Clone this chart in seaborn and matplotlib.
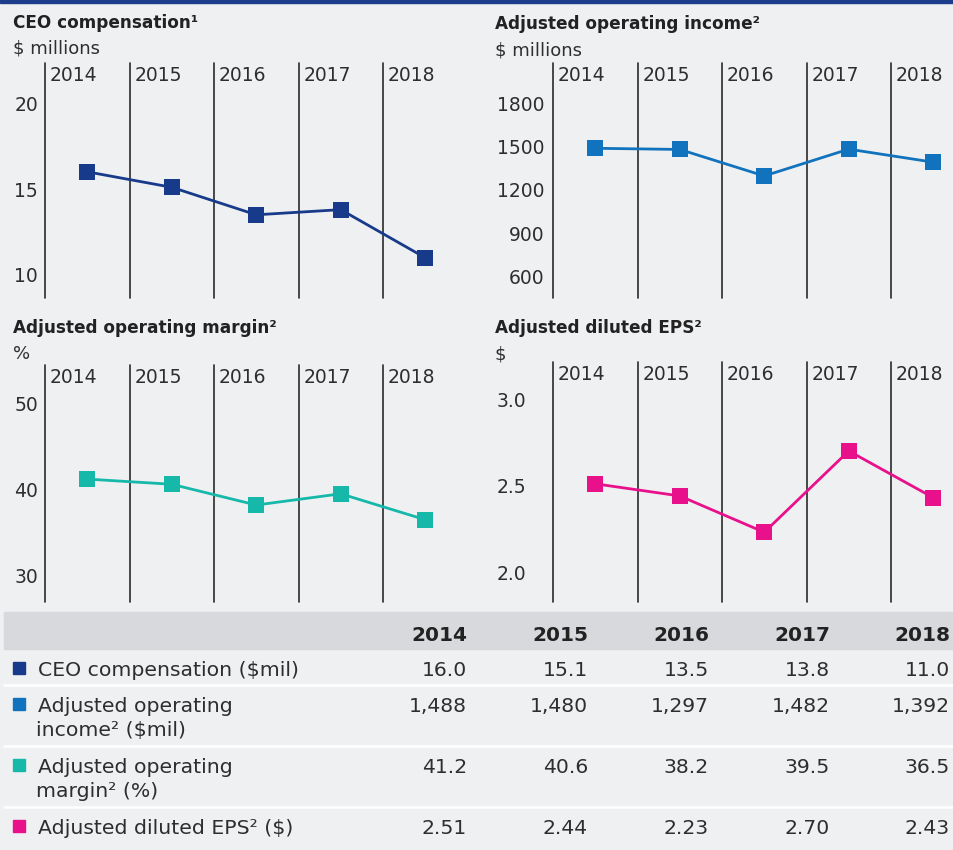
import numpy as np
import pandas as pd
import matplotlib.pyplot as plt
from matplotlib.patches import Rectangle
import seaborn as sns

years = [2014, 2015, 2016, 2017, 2018]
ceo_comp = [16.0, 15.1, 13.5, 13.8, 11.0]
op_income = [1488, 1480, 1297, 1482, 1392]
op_margin = [41.2, 40.6, 38.2, 39.5, 36.5]
adj_eps = [2.51, 2.44, 2.23, 2.70, 2.43]

ceo_ticks = [10, 15, 20]
income_ticks = [600, 900, 1200, 1500, 1800]
margin_ticks = [30, 40, 50]
eps_ticks = [2.0, 2.5, 3.0]

row_labels = ['CEO compensation ($mil)',
              'Adjusted operating\nincome\u00b2 ($mil)',
              'Adjusted operating\nmargin\u00b2 (%)',
              'Adjusted diluted EPS\u00b2 ($)']
row_values = [[f'{v:.1f}' for v in ceo_comp],
              [f'{v:,}' for v in op_income],
              [f'{v:.1f}' for v in op_margin],
              [f'{v:.2f}' for v in adj_eps]]

navy = '#173a8a'
blue = '#1172bd'
teal = '#16b8aa'
pink = '#e8108b'
bg = '#eff0f2'
txt = '#2e2e2e'

sns.set_style('white')
plt.rcParams['font.family'] = ['DejaVu Sans']

W, H = 954, 850
fig = plt.figure(figsize=(W / 100, H / 100), dpi=100, facecolor=bg)


def fx(x):
    return x / W


def fy(y):
    return 1 - y / H


# dark band along the top
fig.patches.append(Rectangle((0, fy(3)), 1, 3 / H, transform=fig.transFigure,
                             color='#1d3c8c', zorder=0))


def panel(left, right, top, bottom, vals, color, ylim, ticks, fmt, pad,
          title, unit, title_x, title_base):
    ax = fig.add_axes([fx(left), fy(bottom), fx(right - left), (bottom - top) / H])
    ax.set_facecolor('none')
    df = pd.DataFrame({'year': years, 'value': vals})
    sns.lineplot(data=df, x='year', y='value', color=color, marker='s',
                 markersize=11.8, markeredgewidth=0, linewidth=2.0, ax=ax)
    step = 84.5
    ax.set_xlim(years[0] - 0.5, years[0] - 0.5 + (right - left) / step)
    ax.set_ylim(*ylim)
    for yr in years:
        ax.axvline(yr - 0.5, color='#2b2b2b', lw=1.2, zorder=0, clip_on=False)
        ax.annotate(str(yr), xy=(yr - 0.5, 1), xycoords=('data', 'axes fraction'),
                    xytext=(5, -18), textcoords='offset pixels',
                    ha='left', va='baseline', fontsize=13.5, color=txt)
    ax.set_yticks(ticks)
    ax.set_yticklabels([fmt.format(t) for t in ticks])
    ax.tick_params(axis='y', length=0, pad=pad, labelsize=13.5, labelcolor=txt)
    ax.set_xticks([])
    ax.set_xlabel('')
    ax.set_ylabel('')
    for s in ax.spines.values():
        s.set_visible(False)
    fig.text(fx(title_x), fy(title_base), title, fontsize=12.2, fontweight='bold',
             color='#222222', va='baseline')
    fig.text(fx(title_x), fy(title_base + 26), unit, fontsize=13, color=txt,
             va='baseline')
    return ax


panel(45, 467, 63, 298, ceo_comp, navy, (8.66, 22.33), ceo_ticks, '{:d}', 5,
      'CEO compensation\u00b9', '$ millions', 13, 28)
panel(553, 954, 63, 298, op_income, blue, (454, 2077), income_ticks, '{:d}', 6,
      'Adjusted operating income\u00b2', '$ millions', 495, 29)
panel(45, 467, 365, 602, op_margin, teal, (26.98, 54.4), margin_ticks, '{:d}', 5,
      'Adjusted operating margin\u00b2', '%', 13, 333)
panel(553, 954, 362, 602, adj_eps, pink, (1.827, 3.214), eps_ticks, '{:.1f}', 19,
      'Adjusted diluted EPS\u00b2', '$', 495, 333)

# table
fig.patches.append(Rectangle((fx(4), fy(649)), fx(950), 37 / H,
                             transform=fig.transFigure, color='#d8d9dc', zorder=0))
for ysep in [685, 746, 807]:
    fig.add_artist(plt.Line2D([fx(4), 1], [fy(ysep), fy(ysep)], color='white', lw=1.8))

col_right = [467, 588, 709, 830, 950]
for xr, yr in zip(col_right, years):
    fig.text(fx(xr), fy(641), str(yr), ha='right', va='baseline',
             fontsize=14.5, fontweight='bold', color='#222222')

row_base = [676, 712, 773, 834]
row_colors = [navy, blue, teal, pink]
for lab, vals, base, c in zip(row_labels, row_values, row_base, row_colors):
    fig.patches.append(Rectangle((fx(13), fy(base - 2)), 12 / W, 12 / H,
                                 transform=fig.transFigure, color=c))
    for k, line in enumerate(lab.split('\n')):
        fig.text(fx(38 if k == 0 else 36), fy(base + 24 * k), line,
                 ha='left', va='baseline', fontsize=14.7, color=txt)
    for xr, v in zip(col_right, vals):
        fig.text(fx(xr), fy(base), v, ha='right', va='baseline',
                 fontsize=14.7, color=txt)

fig.savefig('out.png', dpi=100, facecolor=bg)
